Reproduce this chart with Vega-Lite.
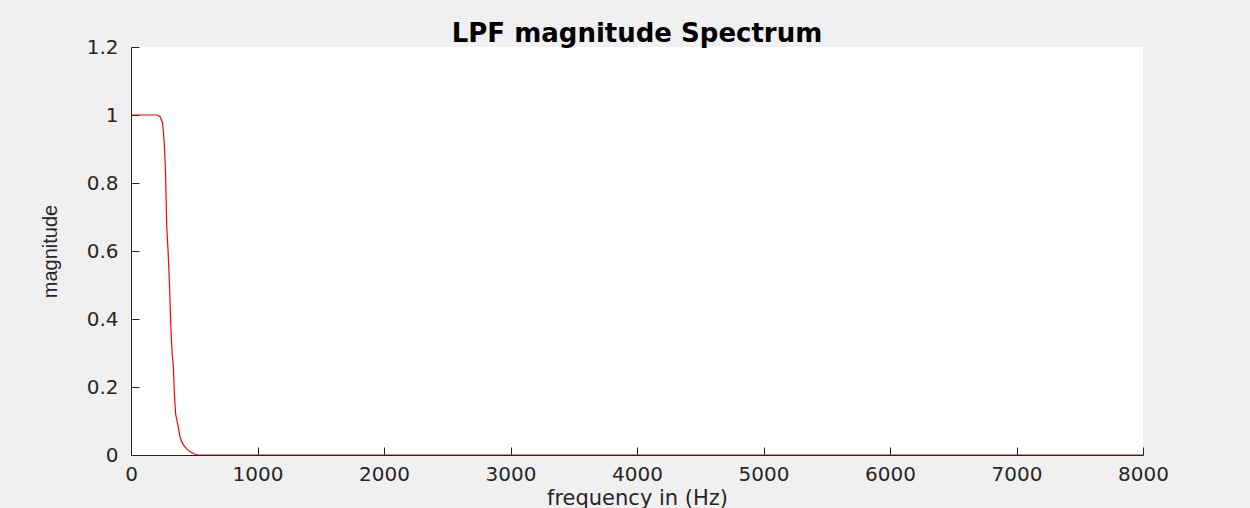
{
  "$schema": "https://vega.github.io/schema/vega-lite/v6.json",
  "width": 1012,
  "height": 408,
  "autosize": "none",
  "padding": {"left": 131, "top": 47, "right": 107, "bottom": 53},
  "background": "#f0f0f0",
  "title": {
    "text": "LPF magnitude Spectrum",
    "font": "DejaVu Sans",
    "fontSize": 26,
    "fontWeight": "bold",
    "color": "#000000",
    "anchor": "middle",
    "offset": -10
  },
  "config": {
    "view": {"fill": "#ffffff", "stroke": null},
    "axis": {
      "grid": false,
      "domainColor": "#262626",
      "domainWidth": 1,
      "tickColor": "#262626",
      "tickSize": -8,
      "labelFont": "DejaVu Sans",
      "labelFontSize": 20,
      "labelColor": "#262626",
      "titleColor": "#262626",
      "titleFontWeight": "normal",
      "labelFlush": false
    }
  },
  "data": {
    "values": [
      {"freq": 0, "mag": 1.0},
      {"freq": 210, "mag": 1.0},
      {"freq": 230, "mag": 0.995},
      {"freq": 250, "mag": 0.976},
      {"freq": 263, "mag": 0.918},
      {"freq": 274, "mag": 0.818},
      {"freq": 282, "mag": 0.676},
      {"freq": 293, "mag": 0.6},
      {"freq": 303, "mag": 0.515},
      {"freq": 316, "mag": 0.368},
      {"freq": 325, "mag": 0.3},
      {"freq": 335, "mag": 0.26},
      {"freq": 343, "mag": 0.18},
      {"freq": 353, "mag": 0.12},
      {"freq": 364, "mag": 0.1},
      {"freq": 374, "mag": 0.083},
      {"freq": 387, "mag": 0.054},
      {"freq": 400, "mag": 0.04},
      {"freq": 414, "mag": 0.03},
      {"freq": 440, "mag": 0.018},
      {"freq": 466, "mag": 0.01},
      {"freq": 500, "mag": 0.003},
      {"freq": 530, "mag": 0.0},
      {"freq": 8000, "mag": 0.0}
    ]
  },
  "mark": {"type": "line", "color": "#ff0000", "strokeWidth": 1.2, "clip": true},
  "encoding": {
    "x": {
      "field": "freq",
      "type": "quantitative",
      "scale": {"domain": [0, 8000], "nice": false, "zero": false},
      "axis": {
        "values": [0, 1000, 2000, 3000, 4000, 5000, 6000, 7000, 8000],
        "format": "d",
        "title": "frequency in (Hz)",
        "titleFont": "DejaVu Sans",
        "titleFontSize": 21,
        "labelPadding": 17,
        "titlePadding": 3
      }
    },
    "y": {
      "field": "mag",
      "type": "quantitative",
      "scale": {"domain": [0, 1.2], "nice": false, "zero": false},
      "axis": {
        "values": [0, 0.2, 0.4, 0.6, 0.8, 1, 1.2],
        "format": "~g",
        "title": "magnitude",
        "titleFont": "Liberation Sans",
        "titleFontSize": 20,
        "labelPadding": 21,
        "titlePadding": 26
      }
    }
  }
}
